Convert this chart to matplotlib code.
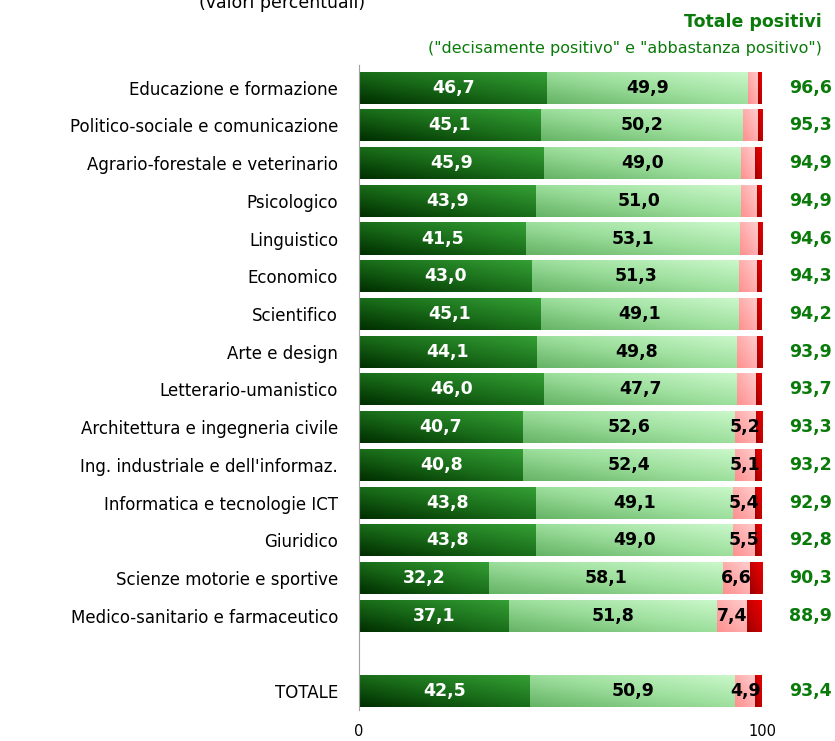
import matplotlib
matplotlib.use("Agg")
import matplotlib.pyplot as plt
import numpy as np
from matplotlib.colors import LinearSegmentedColormap

# data (valori percentuali)
categories = [
    "Educazione e formazione",
    "Politico-sociale e comunicazione",
    "Agrario-forestale e veterinario",
    "Psicologico",
    "Linguistico",
    "Economico",
    "Scientifico",
    "Arte e design",
    "Letterario-umanistico",
    "Architettura e ingegneria civile",
    "Ing. industriale e dell'informaz.",
    "Informatica e tecnologie ICT",
    "Giuridico",
    "Scienze motorie e sportive",
    "Medico-sanitario e farmaceutico",
    "TOTALE",
]
decisamente_pos = [46.7, 45.1, 45.9, 43.9, 41.5, 43.0, 45.1, 44.1, 46.0, 40.7, 40.8, 43.8, 43.8, 32.2, 37.1, 42.5]
abbastanza_pos = [49.9, 50.2, 49.0, 51.0, 53.1, 51.3, 49.1, 49.8, 47.7, 52.6, 52.4, 49.1, 49.0, 58.1, 51.8, 50.9]
abbastanza_neg = [2.5, 3.6, 3.3, 3.9, 4.3, 4.5, 4.6, 4.8, 4.9, 5.2, 5.1, 5.4, 5.5, 6.6, 7.4, 4.9]
decisamente_neg = [0.8, 1.1, 1.5, 1.2, 1.1, 1.2, 1.2, 1.3, 1.4, 1.5, 1.7, 1.7, 1.7, 3.1, 3.7, 1.7]
totale_pos = [96.6, 95.3, 94.9, 94.9, 94.6, 94.3, 94.2, 93.9, 93.7, 93.3, 93.2, 92.9, 92.8, 90.3, 88.9, 93.4]
show_neg_label = [False] * 9 + [True] * 6 + [True]

positions = list(range(15)) + [16]

green_txt = "#0a7a0a"

fig = plt.figure(figsize=(8.35, 7.41), dpi=100)
ax = fig.add_axes([359 / 835, 31 / 741, 403 / 835, 645 / 741])

# colour gradients: dark at bottom-left, light at top-right
cmaps = [
    LinearSegmentedColormap.from_list("dg", ["#002e00", "#1a6e1a", "#35a035"]),
    LinearSegmentedColormap.from_list("lg", ["#66b466", "#9ddf9d", "#cbf8cb"]),
    LinearSegmentedColormap.from_list("pk", ["#ff9090", "#ffaeae", "#ffcdcd"]),
    LinearSegmentedColormap.from_list("rd", ["#9a0000", "#c80000", "#ec0000"]),
]

u, v = np.meshgrid(np.linspace(0, 1, 40), np.linspace(0, 1, 40))
grad = 0.5 * u + 0.5 * v

h = 0.85
series = [decisamente_pos, abbastanza_pos, abbastanza_neg, decisamente_neg]
left = np.zeros(len(categories))
for s, vals in enumerate(series):
    vals = np.array(vals)
    bars = ax.barh(positions, vals, left=left, height=h, color="none", edgecolor="none")
    for rect in bars:
        x0, y0 = rect.get_x(), rect.get_y()
        w, hh = rect.get_width(), rect.get_height()
        im = ax.imshow(grad, cmap=cmaps[s], origin="lower", aspect="auto",
                       extent=(x0, x0 + w, y0 + hh, y0), interpolation="bilinear", zorder=2)
        im.set_clip_path(rect)
    left = left + vals

ax.set_xlim(0, 100)
ax.set_ylim(16.5, -0.6)

for i, p in enumerate(positions):
    d, a, n = decisamente_pos[i], abbastanza_pos[i], abbastanza_neg[i]
    ax.text(d / 2, p, f"{d:.1f}".replace(".", ","), ha="center", va="center",
            color="white", fontsize=12.5, fontweight="bold", zorder=5)
    ax.text(d + a / 2, p, f"{a:.1f}".replace(".", ","), ha="center", va="center",
            color="black", fontsize=12.5, fontweight="bold", zorder=5)
    if show_neg_label[i]:
        ax.text(d + a + n / 2, p, f"{n:.1f}".replace(".", ","), ha="center", va="center",
                color="black", fontsize=12.5, fontweight="bold", zorder=5)
    ax.text(112, p, f"{totale_pos[i]:.1f}".replace(".", ","), ha="center", va="center",
            color=green_txt, fontsize=12.5, fontweight="bold", clip_on=False)

ax.set_yticks(positions)
ax.set_yticklabels(categories, fontsize=12)
ax.set_xticks([0, 100])
ax.set_xticklabels(["0", "100"], fontsize=10.5)
ax.tick_params(axis="y", length=0, pad=15)
ax.tick_params(axis="x", length=0, pad=10)
for sp in ["top", "right", "bottom"]:
    ax.spines[sp].set_visible(False)
ax.spines["left"].set_color("#a0a0a0")
ax.spines["left"].set_linewidth(0.8)

fig.text(822 / 835, 1 - 22 / 741, "Totale positivi", ha="right", va="center",
         color=green_txt, fontsize=12.5, fontweight="bold")
fig.text(822 / 835, 1 - 48 / 741, "(\"decisamente positivo\" e \"abbastanza positivo\")",
         ha="right", va="center", color=green_txt, fontsize=11.5)
fig.text(282 / 835, 1 - 8 / 741, "(valori percentuali)", ha="center", va="baseline",
         color="black", fontsize=12.5)

fig.savefig("out.png", dpi=100)
